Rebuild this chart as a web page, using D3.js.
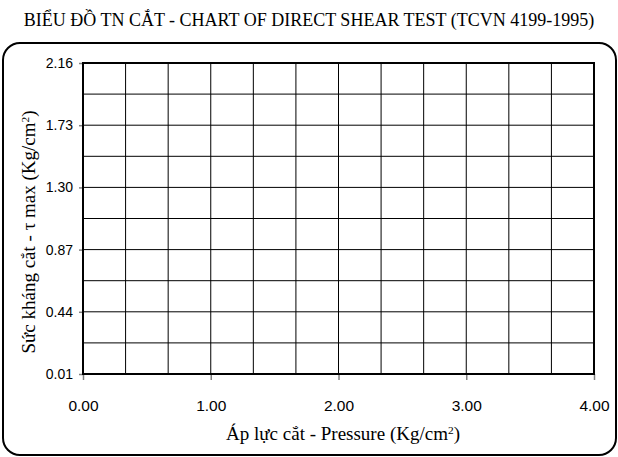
<!DOCTYPE html>
<html>
<head>
<meta charset="utf-8">
<script src="https://cdn.jsdelivr.net/npm/d3@7/dist/d3.min.js"></script>
<style>
  html, body { margin: 0; padding: 0; background: #fff; }
  svg { display: block; }
</style>
</head>
<body>
<svg id="chart" width="618" height="457"></svg>
<script>
// Axis ranges and tick labels (pressure in Kg/cm², shear strength in Kg/cm²)
const xDomain = [0, 4];
const yDomain = [0.01, 2.16];
const xTickValues = [0, 1, 2, 3, 4];
const yTickValues = [0.01, 0.44, 0.87, 1.30, 1.73, 2.16];
// Interior gridlines: every third of a unit on x, every half step on y
const xGridValues = [1/3, 2/3, 1, 4/3, 5/3, 2, 7/3, 8/3, 3, 10/3, 11/3];
const yGridValues = [0.225, 0.44, 0.655, 0.87, 1.085, 1.30, 1.515, 1.73, 1.945];
// Test results (none plotted yet)
const pressure = [];
const shearStress = [];

const titleText = "BIỂU ĐỒ TN CẮT - CHART OF DIRECT SHEAR TEST (TCVN 4199-1995)";

const svg = d3.select("#chart");
const plot = { left: 83, right: 594, top: 63, bottom: 374 };

const x = d3.scaleLinear().domain(xDomain).range([plot.left, plot.right]);
const y = d3.scaleLinear().domain(yDomain).range([plot.bottom, plot.top]);

// Outer rounded frame
svg.append("rect")
  .attr("x", 3).attr("y", 43)
  .attr("width", 613).attr("height", 412)
  .attr("rx", 17).attr("ry", 17)
  .attr("fill", "#fff")
  .attr("stroke", "#000")
  .attr("stroke-width", 2);

// Chart title
svg.append("text")
  .attr("x", 309).attr("y", 26)
  .attr("text-anchor", "middle")
  .attr("font-family", "'Liberation Serif', 'Times New Roman', serif")
  .attr("font-size", 18)
  .attr("fill", "#000")
  .text(titleText);

// Gridlines
const grid = svg.append("g").attr("stroke", "#000").attr("stroke-width", 1);
grid.selectAll("line.vx").data(xGridValues).join("line")
  .attr("class", "vx")
  .attr("x1", d => x(d)).attr("x2", d => x(d))
  .attr("y1", plot.top).attr("y2", plot.bottom);
grid.selectAll("line.hy").data(yGridValues).join("line")
  .attr("class", "hy")
  .attr("y1", d => y(d)).attr("y2", d => y(d))
  .attr("x1", plot.left).attr("x2", plot.right);

// Axes with ticks and labels
const fmt = d3.format(".2f");
const yAxis = svg.append("g")
  .attr("transform", `translate(${plot.left},0)`)
  .call(d3.axisLeft(y).tickValues(yTickValues).tickFormat(fmt).tickSize(4).tickPadding(6));
const xAxis = svg.append("g")
  .attr("transform", `translate(0,${plot.bottom})`)
  .call(d3.axisBottom(x).tickValues(xTickValues).tickFormat(fmt).tickSize(6).tickPadding(20));

[xAxis, yAxis].forEach(g => {
  g.select(".domain").remove();
  g.selectAll(".tick line").attr("stroke", "#808080").attr("stroke-width", 1.5);
  g.selectAll(".tick text")
    .attr("font-family", "'Liberation Sans', Arial, sans-serif")
    .attr("fill", "#000");
});
yAxis.selectAll(".tick text").attr("font-size", 14);
xAxis.selectAll(".tick text").attr("font-size", 15.5);

// Plot area border
svg.append("rect")
  .attr("x", plot.left).attr("y", plot.top)
  .attr("width", plot.right - plot.left).attr("height", plot.bottom - plot.top)
  .attr("fill", "none")
  .attr("stroke", "#000")
  .attr("stroke-width", 2);

// Data points (drawn when present)
svg.append("g").selectAll("circle").data(pressure.map((p, i) => [p, shearStress[i]])).join("circle")
  .attr("cx", d => x(d[0])).attr("cy", d => y(d[1])).attr("r", 3).attr("fill", "#000");

// Axis titles with superscript units
function addTitle(sel, label) {
  sel.append("tspan").text(label);
  sel.append("tspan").attr("font-size", "0.6em").attr("dy", "-0.55em").text("2");
  sel.append("tspan").attr("dy", "0.33em").text(")");
}

const xTitle = svg.append("text")
  .attr("x", 343).attr("y", 440)
  .attr("text-anchor", "middle")
  .attr("font-family", "'Liberation Serif', 'Times New Roman', serif")
  .attr("font-size", 19)
  .attr("fill", "#000");
addTitle(xTitle, "Áp lực cắt - Pressure (Kg/cm");

const yTitle = svg.append("text")
  .attr("transform", "translate(35,232) rotate(-90)")
  .attr("text-anchor", "middle")
  .attr("font-family", "'Liberation Serif', 'Times New Roman', serif")
  .attr("font-size", 19)
  .attr("fill", "#000");
addTitle(yTitle, "Sức kháng cắt - τ max (Kg/cm");
</script>
</body>
</html>
